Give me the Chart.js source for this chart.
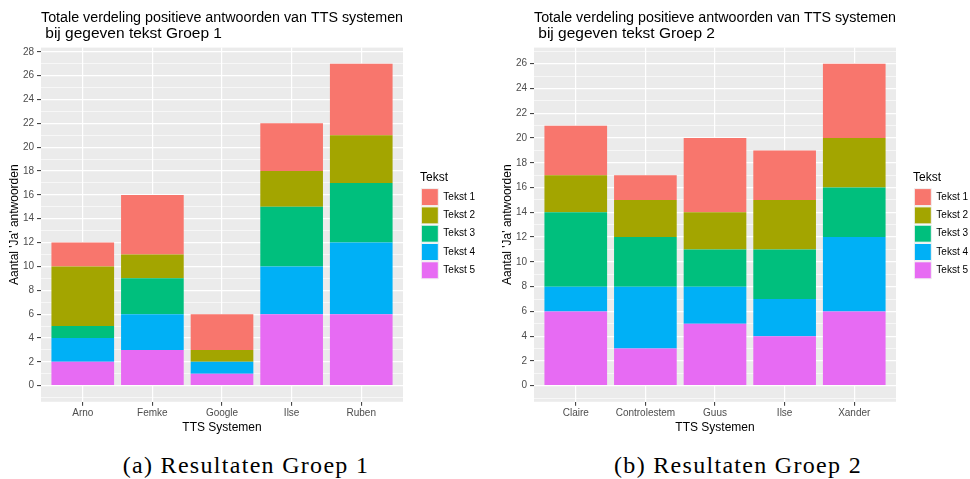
<!DOCTYPE html>
<html>
<head>
<meta charset="utf-8">
<script src="https://cdn.jsdelivr.net/npm/chart.js@4.4.1/dist/chart.umd.min.js"></script>
<style>
    body { margin: 0; background: #fff; width: 970px; height: 479px; overflow: hidden; position: relative; }
    .box { position: absolute; top: 0; width: 485px; height: 440px; }
    .caption { position: absolute; top: 453px; height: 26px; line-height: 24px; font-family: "Liberation Serif", "Times New Roman", serif; font-size: 24px; letter-spacing: 1.3px; text-align: center; color: #000; }
</style>
</head>
<body>
<div class="box" style="left:0"><canvas id="groep1"></canvas></div>
<div class="box" style="left:493px"><canvas id="groep2"></canvas></div>
<div class="caption" style="left:0;width:492px">(a) Resultaten Groep 1</div>
<div class="caption" style="left:493px;width:490px">(b) Resultaten Groep 2</div>
<script>
const tekstLabels = ['Tekst 1', 'Tekst 2', 'Tekst 3', 'Tekst 4', 'Tekst 5'];
const tekstColors = ['#F8766D', '#A3A500', '#00BF7D', '#00B0F6', '#E76BF3'];

const groep1Systems = ['Arno', 'Femke', 'Google', 'Ilse', 'Ruben'];
const groep1Tekst1 = [2, 5, 3, 4, 6];
const groep1Tekst2 = [5, 2, 1, 3, 4];
const groep1Tekst3 = [1, 3, 0, 5, 5];
const groep1Tekst4 = [2, 3, 1, 4, 6];
const groep1Tekst5 = [2, 3, 1, 6, 6];

const groep2Systems = ['Claire', 'Controlestem', 'Guus', 'Ilse', 'Xander'];
const groep2Tekst1 = [4, 2, 6, 4, 6];
const groep2Tekst2 = [3, 3, 3, 4, 4];
const groep2Tekst3 = [6, 4, 3, 4, 4];
const groep2Tekst4 = [2, 5, 3, 3, 6];
const groep2Tekst5 = [6, 3, 5, 4, 6];

Chart.defaults.font.family = '"Liberation Sans", Arial, sans-serif';

// grey ggplot-style panel behind the grid
const panelBg = {
    id: 'panelBg',
    beforeDraw(chart) {
        const { ctx, chartArea: a } = chart;
        ctx.save();
        ctx.fillStyle = '#EBEBEB';
        ctx.fillRect(a.left, a.top, a.right - a.left, a.bottom - a.top);
        ctx.restore();
    }
};

const isMajor = (c) => c.tick && c.tick.value % 2 === 0;

// series come in as Tekst 1..5
function makeChart(id, groupName, systems, series) {
    const totals = systems.map((_, j) => series.reduce((s, arr) => s + arr[j], 0));
    const maxTotal = Math.max(...totals);

    // first dataset sits at the bottom of the stack, so Tekst 5 goes first
    const datasets = series.map((vals, i) => ({
        label: tekstLabels[i],
        data: vals.map((v, j) => ({ x: j + 1, y: v })),
        backgroundColor: tekstColors[i],
        borderWidth: 0,
        barPercentage: 0.9,
        categoryPercentage: 1.0
    })).reverse();

    return new Chart(document.getElementById(id), {
        type: 'bar',
        data: { datasets },
        plugins: [panelBg],
        options: {
            responsive: true,
            maintainAspectRatio: false,
            animation: false,
            layout: { padding: { left: 5, right: 0, top: 10, bottom: 6 } },
            scales: {
                x: {
                    type: 'linear',
                    stacked: true,
                    offset: false,
                    min: 0.4,
                    max: systems.length + 0.6,
                    afterBuildTicks: (ax) => { ax.ticks = systems.map((_, j) => ({ value: j + 1 })); },
                    ticks: {
                        autoSkip: false,
                        maxRotation: 0,
                        padding: 1,
                        color: '#4D4D4D',
                        font: { size: 10 },
                        callback: (v) => systems[v - 1]
                    },
                    grid: { offset: false, color: '#FFFFFF', lineWidth: 1.2, tickColor: '#333333', tickLength: 4, tickWidth: 1 },
                    border: { display: false },
                    title: { display: true, text: 'TTS Systemen', color: '#000', font: { size: 12, lineHeight: 1.1 }, padding: { top: 1, bottom: 0 } }
                },
                y: {
                    stacked: true,
                    min: -0.05 * maxTotal,
                    max: 1.05 * maxTotal,
                    afterBuildTicks: (ax) => {
                        ax.ticks = [];
                        for (let v = Math.ceil(ax.min); v <= Math.floor(ax.max); v++) ax.ticks.push({ value: v });
                    },
                    afterFit: (ax) => { ax.width = 36; },
                    ticks: {
                        autoSkip: false,
                        padding: 3,
                        color: '#4D4D4D',
                        font: { size: 10 },
                        callback: (v) => (v % 2 === 0 ? v : '')
                    },
                    grid: {
                        color: '#FFFFFF',
                        lineWidth: (c) => (isMajor(c) ? 1.2 : 0.6),
                        tickColor: (c) => (isMajor(c) ? '#333333' : 'rgba(0,0,0,0)'),
                        tickLength: 4,
                        tickWidth: 1
                    },
                    border: { display: false },
                    title: { display: true, text: "Aantal 'Ja' antwoorden", color: '#000', font: { size: 12, lineHeight: 1.1 }, padding: { top: 3, bottom: 0 } }
                },
                // empty axis, only keeps the legend away from the panel
                gap: {
                    position: 'right',
                    display: true,
                    ticks: { display: false },
                    grid: { display: false },
                    border: { display: false },
                    afterFit: (ax) => { ax.width = 17; }
                }
            },
            plugins: {
                title: {
                    display: true,
                    text: ['Totale verdeling positieve antwoorden van TTS systemen', ' bij gegeven tekst ' + groupName],
                    align: 'start',
                    fullSize: false,
                    color: '#000',
                    font: { size: 15.5, weight: 'normal', lineHeight: 1.02 },
                    padding: { top: 0, bottom: 6 }
                },
                legend: {
                    position: 'right',
                    reverse: true,
                    title: { display: true, text: 'Tekst', color: '#000', position: 'start', font: { size: 12 }, padding: { top: 8, bottom: 1 } },
                    labels: {
                        boxWidth: 17,
                        boxHeight: 17,
                        padding: 1.3,
                        color: '#000',
                        font: { size: 10 },
                        generateLabels: (chart) => Chart.defaults.plugins.legend.labels.generateLabels(chart)
                            .map((l) => Object.assign(l, { strokeStyle: '#F2F2F2', lineWidth: 1 }))
                    }
                },
                tooltip: { enabled: false }
            }
        }
    });
}

makeChart('groep1', 'Groep 1', groep1Systems, [groep1Tekst1, groep1Tekst2, groep1Tekst3, groep1Tekst4, groep1Tekst5]);
makeChart('groep2', 'Groep 2', groep2Systems, [groep2Tekst1, groep2Tekst2, groep2Tekst3, groep2Tekst4, groep2Tekst5]);
</script>
</body>
</html>
